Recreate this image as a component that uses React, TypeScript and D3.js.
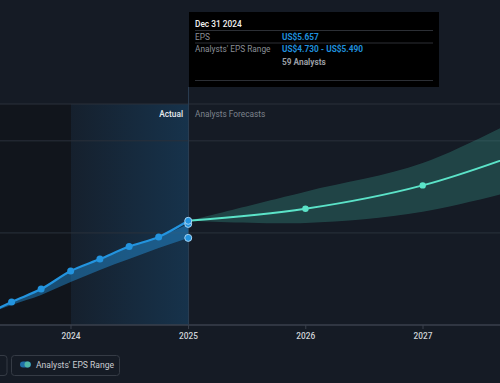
import React from "react";
import * as d3 from "d3";

const actualDates = ["2023-03-31", "2023-06-30", "2023-09-30", "2023-12-31", "2024-03-31", "2024-06-30", "2024-09-30", "2024-12-31"];
const actualEps = [0.46, 1.25, 1.95, 2.93, 3.58, 4.26, 4.78, 5.657];
const actualRangeLow = [0.5, 1.09, 1.63, 2.33, 2.99, 3.58, 4.18, 4.73];
const actualRangeHigh = [0.46, 1.25, 1.95, 2.93, 3.58, 4.26, 4.78, 5.49];

const forecastDates = ["2024-12-31", "2025-12-31", "2026-12-31", "2027-12-31"];
const forecastEps = [5.657, 6.31, 7.58, 9.7];
const forecastLow = [5.657, 5.54, 6.15, 7.65];
const forecastHigh = [5.657, 7.24, 8.79, 11.8];

const yGrid = [0, 5, 10, 12];
const xTicks = ["2024", "2025", "2026", "2027"];

const W = 500, H = 383;
const FONT = "Roboto, 'Open Sans', sans-serif";

export default function App() {
  const p = d3.timeParse("%Y-%m-%d");
  const x = d3.scaleTime().domain([p("2024-01-01")!, p("2027-01-01")!]).range([71, 423]);
  const y = d3.scaleLinear().domain([0, 12]).range([325, 104]);

  const act = actualDates.map((d, i) => ({ x: x(p(d)!), y: y(actualEps[i]), lo: y(actualRangeLow[i]), hi: y(actualRangeHigh[i]) }));
  const fc = forecastDates.map((d, i) => ({ x: x(p(d)!), y: y(forecastEps[i]), lo: y(forecastLow[i]), hi: y(forecastHigh[i]) }));

  const lineA = d3.line<any>().x(d => d.x).y(d => d.y).curve(d3.curveMonotoneX);
  const areaA = d3.area<any>().x(d => d.x).y0(d => d.lo).y1(d => d.hi).curve(d3.curveMonotoneX);
  const lineF = d3.line<any>().x(d => d.x).y(d => d.y).curve(d3.curveCatmullRom.alpha(0.5));
  const areaF = d3.area<any>().x(d => d.x).y0(d => d.lo).y1(d => d.hi).curve(d3.curveCatmullRom.alpha(0.5));

  const xNow = x(p("2025-01-01")!);
  const x2024 = x(p("2024-01-01")!);
  const last = act[act.length - 1];

  return (
    <svg width={W} height={H} style={{ position: "absolute", left: 0, top: 0, background: "#151b25" }} fontFamily={FONT}>
      <defs>
        <linearGradient id="pastGrad" x1="0" x2="1" y1="0" y2="0">
          <stop offset="0" stopColor="#1a6fae" stopOpacity={0.06} />
          <stop offset="1" stopColor="#1a6fae" stopOpacity={0.28} />
        </linearGradient>
        <clipPath id="plotClip">
          <rect x={0} y={104} width={W} height={221} />
        </clipPath>
      </defs>
      <rect x={0} y={0} width={W} height={H} fill="#151b25" />
      <rect x={0} y={y(12)} width={x2024} height={y(0) - y(12)} fill="#11151c" />
      <rect x={x2024} y={y(12)} width={xNow - x2024} height={y(0) - y(12)} fill="url(#pastGrad)" />
      {yGrid.map(v => (
        <line key={v} x1={0} x2={W} y1={y(v)} y2={y(v)} stroke={v === 0 ? "#3a414c" : "#2a313b"} strokeWidth={v === 0 ? 1.5 : 1} />
      ))}
      <line x1={xNow} x2={xNow} y1={87} y2={y(0)} stroke="#2a3d52" strokeWidth={1} />
      {xTicks.map(t => {
        const xx = x(p(t + "-01-01")!);
        return (
          <g key={t}>
            <line x1={xx} x2={xx} y1={325} y2={329} stroke="#3a414c" />
            <text x={xx} y={338.5} textAnchor="middle" fontSize={8.3} fontWeight={500} fill="#d0d3d8">{t}</text>
          </g>
        );
      })}
      <text x={183} y={116.5} textAnchor="end" fontSize={8.3} fontWeight={500} fill="#e8eaee">Actual</text>
      <text x={195} y={116.5} fontSize={8.3} fill="#7d838c">Analysts Forecasts</text>
      <g clipPath="url(#plotClip)">
        <path d={areaF(fc) || ""} fill="#3aa596" fillOpacity={0.3} />
        <path d={areaA(act) || ""} fill="#2394df" fillOpacity={0.45} />
        <path d={lineF(fc) || ""} fill="none" stroke="#5be3c8" strokeWidth={2} />
        <path d={lineA(act) || ""} fill="none" stroke="#2394df" strokeWidth={2.2} />
        {fc.slice(1).map((d, i) => (
          <circle key={"f" + i} cx={d.x} cy={d.y} r={3.2} fill="#5be3c8" />
        ))}
        {act.slice(0, -1).map((d, i) => (
          <circle key={"a" + i} cx={d.x} cy={d.y} r={3.5} fill="#2394df" />
        ))}
        <circle cx={last.x} cy={last.lo} r={3.5} fill="#2394df" stroke="#a9d4f2" strokeWidth={1} />
        <circle cx={last.x} cy={last.hi} r={3.5} fill="#2394df" stroke="#a9d4f2" strokeWidth={1} />
        <circle cx={last.x} cy={last.y} r={3.5} fill="#2394df" stroke="#a9d4f2" strokeWidth={1} />
      </g>
      <g>
        <rect x={189} y={12} width={250} height={75} fill="#000" />
        <text x={195} y={26.5} fontSize={8.3} fontWeight={500} fill="#f2f2f2">Dec 31 2024</text>
        <line x1={195} x2={433} y1={30.5} y2={30.5} stroke="#2c2f35" />
        <text x={195} y={39.5} fontSize={8.3} fill="#8a8f96">EPS</text>
        <text x={282} y={39.5} fontSize={8.3} fontWeight={700} fill="#1f8fdc">US$5.657</text>
        <line x1={195} x2={433} y1={43} y2={43} stroke="#2c2f35" />
        <text x={195} y={52} fontSize={8.3} fill="#8a8f96">Analysts' EPS Range</text>
        <text x={282} y={52} fontSize={8.3} fontWeight={700} fill="#1f8fdc">US$4.730 - US$5.490</text>
        <text x={282} y={64.5} fontSize={8.3} fontWeight={700} fill="#9a9ea5">59 Analysts</text>
        <line x1={195} x2={433} y1={80.5} y2={80.5} stroke="#2c2f35" />
      </g>
      <g>
        <rect x={-20} y={355.5} width={27} height={20} rx={3} fill="none" stroke="#353b45" />
        <rect x={11.5} y={355.5} width={108} height={20} rx={3} fill="none" stroke="#353b45" />
        <rect x={20} y={361.5} width={11} height={6} rx={3} fill="#1f6fa8" />
        <circle cx={27.5} cy={364.5} r={3} fill="#4fb7a6" />
        <text x={36} y={368} fontSize={8.6} fill="#c9ccd1">Analysts' EPS Range</text>
      </g>
    </svg>
  );
}
